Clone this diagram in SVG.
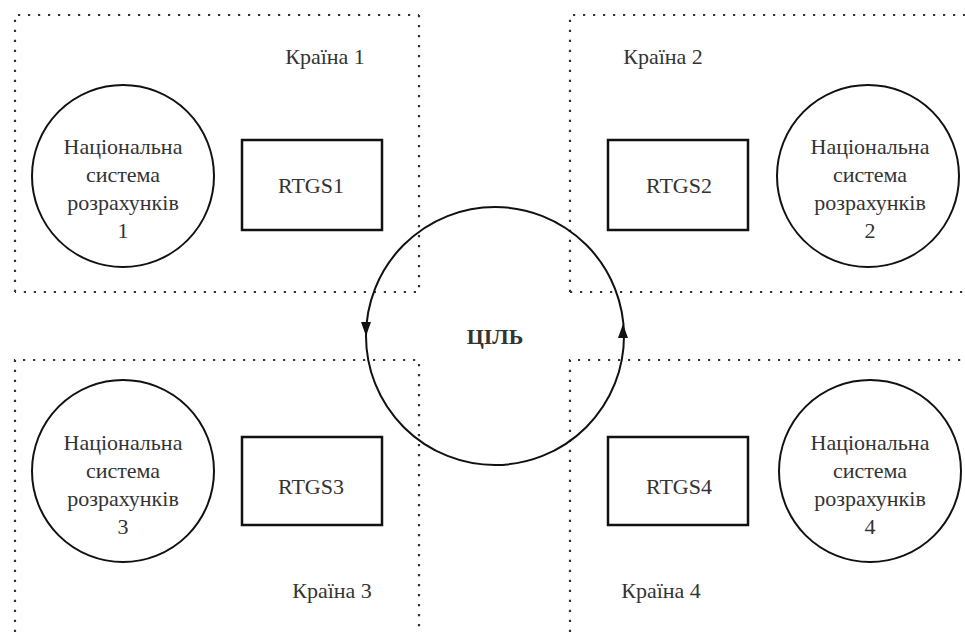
<svg xmlns="http://www.w3.org/2000/svg" width="965" height="632" viewBox="0 0 965 632">
<style>
  .zone{fill:none;stroke:#333;stroke-width:2.2;stroke-dasharray:2.2 7.8}
  .nat{fill:#fff;stroke:#111;stroke-width:2}
  .box{fill:#fff;stroke:#111;stroke-width:2.5}
  text{font-family:'Liberation Serif','DejaVu Serif',serif;font-size:22px;fill:#333;text-anchor:middle}
  .b{font-weight:bold}
  .ring{fill:none;stroke:#111;stroke-width:2}
  .head{fill:#111}
</style>
<rect width="965" height="632" fill="#fff"/>
<g id="zones">
  <path class="zone" d="M15,292 V15 H419"/>
  <path class="zone" d="M419,15 V292 H15"/>
  <path class="zone" d="M570,292 V15 H965"/>
  <path class="zone" d="M570,292 H965"/>
  <path class="zone" d="M15,632 V360 H419 V632"/>
  <path class="zone" d="M570,632 V360 H965"/>
</g>
<g id="labels" font-family="Liberation Serif, serif">
  <text x="325" y="64">Країна 1</text>
  <text x="663" y="64">Країна 2</text>
  <text x="332" y="598">Країна 3</text>
  <text x="661" y="598">Країна 4</text>
</g>
<g id="connectors">
  <circle class="ring" cx="495" cy="336" r="129"/>
  <polygon class="head" points="361,322 371,322 366,336"/>
  <polygon class="head" points="618,338 628,338 623,324"/>
</g>
<g id="target">
  <text class="b" x="495" y="344">ЦІЛЬ</text>
</g>
<g id="nat1">
  <circle class="nat" cx="123" cy="176" r="91"/>
  <text x="123" y="154">Національна</text>
  <text x="123" y="182">система</text>
  <text x="123" y="210">розрахунків</text>
  <text x="123" y="238">1</text>
</g>
<g id="rtgs1">
  <rect class="box" x="242" y="140" width="140" height="90"/>
  <text x="311" y="193">RTGS1</text>
</g>
<g id="rtgs2">
  <rect class="box" x="608" y="140" width="140" height="90"/>
  <text x="679" y="193">RTGS2</text>
</g>
<g id="nat2">
  <circle class="nat" cx="868" cy="176" r="91"/>
  <text x="870" y="154">Національна</text>
  <text x="870" y="182">система</text>
  <text x="870" y="210">розрахунків</text>
  <text x="870" y="238">2</text>
</g>
<g id="nat3">
  <circle class="nat" cx="123" cy="471" r="91"/>
  <text x="123" y="450">Національна</text>
  <text x="123" y="478">система</text>
  <text x="123" y="506">розрахунків</text>
  <text x="123" y="534">3</text>
</g>
<g id="rtgs3">
  <rect class="box" x="242" y="437" width="140" height="88"/>
  <text x="311" y="494">RTGS3</text>
</g>
<g id="rtgs4">
  <rect class="box" x="608" y="437" width="140" height="88"/>
  <text x="679" y="494">RTGS4</text>
</g>
<g id="nat4">
  <circle class="nat" cx="870" cy="471" r="91"/>
  <text x="870" y="450">Національна</text>
  <text x="870" y="478">система</text>
  <text x="870" y="506">розрахунків</text>
  <text x="870" y="534">4</text>
</g>
</svg>
